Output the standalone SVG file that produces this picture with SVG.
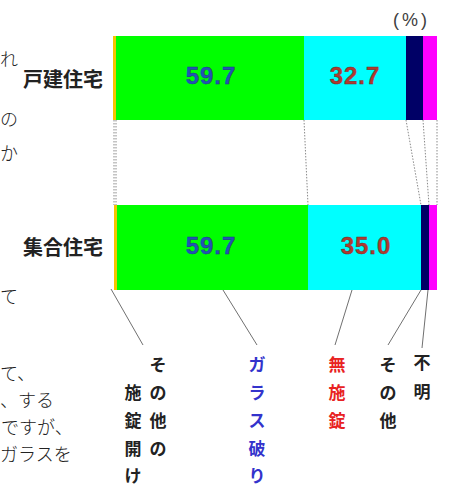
<svg xmlns="http://www.w3.org/2000/svg" width="449" height="490" viewBox="0 0 449 490">
<style>
.body{font-family:"Noto Sans CJK JP","Noto Sans",sans-serif;font-size:18px;font-weight:300;fill:#222}
.cat{font-family:"Noto Sans CJK JP","Noto Sans",sans-serif;font-size:20px;font-weight:700;fill:#222}
.num{font-family:"Liberation Sans",Arial,sans-serif;font-size:24px;font-weight:700;letter-spacing:1px;text-anchor:middle}
.blue{fill:#2353b5;stroke:#1a3a80;stroke-width:0.4}
.red{fill:#b23a2e;stroke:#6a3030;stroke-width:0.4}
.lab{font-family:"Noto Sans CJK JP","Noto Sans",sans-serif;font-size:17px;font-weight:700;text-anchor:middle}
.dot{stroke:#8a8a8a;stroke-width:1;stroke-dasharray:1.5 1.5;fill:none}
.lead{stroke:#707070;stroke-width:1;fill:none}
</style>
<rect width="449" height="490" fill="#ffffff"/>
<g id="body-text">
<text class="body" x="0" y="66">れ</text>
<text class="body" x="0" y="126">の</text>
<text class="body" x="0" y="160">か</text>
<text class="body" x="0" y="303">て</text>
<text class="body" x="0" y="380">て、</text>
<text class="body" x="0" y="407">、する</text>
<text class="body" x="1" y="434">ですが、</text>
<text class="body" x="0" y="461">ガラスを</text>
</g>
<g id="connectors">
<line class="dot" x1="114" y1="120" x2="114" y2="205"/>
<line class="dot" x1="116" y1="120" x2="116" y2="205"/>
<line class="dot" x1="304" y1="120" x2="308" y2="205"/>
<line class="dot" x1="406" y1="120" x2="421" y2="205"/>
<line class="dot" x1="423" y1="120" x2="429" y2="205"/>
<line class="dot" x1="437" y1="120" x2="437" y2="205"/>
<line class="lead" x1="111" y1="289" x2="143" y2="345"/>
<line class="lead" x1="223" y1="290" x2="257" y2="345"/>
<line class="lead" x1="352" y1="290" x2="335" y2="345"/>
<line class="lead" x1="421" y1="290" x2="388" y2="345"/>
<line class="lead" x1="428" y1="290" x2="422" y2="348"/>
</g>
<g id="bar-kodate">
<rect x="113" y="36" width="3" height="84" fill="#f5c400"/>
<rect x="116" y="36" width="188" height="84" fill="#00ff00"/>
<rect x="304" y="36" width="102" height="84" fill="#00ffff"/>
<rect x="406" y="36" width="17" height="84" fill="#000066"/>
<rect x="423" y="36" width="14" height="84" fill="#ff00ff"/>
<text class="cat" x="103" y="87" text-anchor="end">戸建住宅</text>
<text class="num blue" x="211" y="84">59.7</text>
<text class="num red" x="355" y="84">32.7</text>
</g>
<g id="bar-shugo">
<rect x="114" y="205" width="3" height="85" fill="#f5c400"/>
<rect x="117" y="205" width="191" height="85" fill="#00ff00"/>
<rect x="308" y="205" width="113" height="85" fill="#00ffff"/>
<rect x="421" y="205" width="8" height="85" fill="#000066"/>
<rect x="429" y="205" width="8" height="85" fill="#ff00ff"/>
<text class="cat" x="103" y="255" text-anchor="end">集合住宅</text>
<text class="num blue" x="211" y="254">59.7</text>
<text class="num red" x="366" y="254">35.0</text>
</g>
<g id="unit">
<text x="393" y="26" font-family="'Liberation Sans',Arial,sans-serif" font-size="18" letter-spacing="3" fill="#404040">(%)</text>
</g>
<g id="label-sonota-sejou">
<text class="lab" fill="#222"><tspan x="158" y="371">そ</tspan><tspan x="158" y="399">の</tspan><tspan x="158" y="427">他</tspan><tspan x="158" y="455">の</tspan><tspan x="133" y="399">施</tspan><tspan x="133" y="427">錠</tspan><tspan x="133" y="455">開</tspan><tspan x="133" y="482">け</tspan></text>
</g>
<g id="label-glass">
<text class="lab" fill="#3333cc"><tspan x="257" y="371">ガ</tspan><tspan x="257" y="399">ラ</tspan><tspan x="257" y="427">ス</tspan><tspan x="257" y="455">破</tspan><tspan x="257" y="482">り</tspan></text>
</g>
<g id="label-museijou">
<text class="lab" fill="#e82222"><tspan x="337" y="371">無</tspan><tspan x="337" y="399">施</tspan><tspan x="337" y="427">錠</tspan></text>
</g>
<g id="label-sonota">
<text class="lab" fill="#222"><tspan x="388" y="371">そ</tspan><tspan x="388" y="399">の</tspan><tspan x="388" y="427">他</tspan></text>
</g>
<g id="label-fumei">
<text class="lab" fill="#222"><tspan x="422" y="369">不</tspan><tspan x="422" y="398">明</tspan></text>
</g>
</svg>
